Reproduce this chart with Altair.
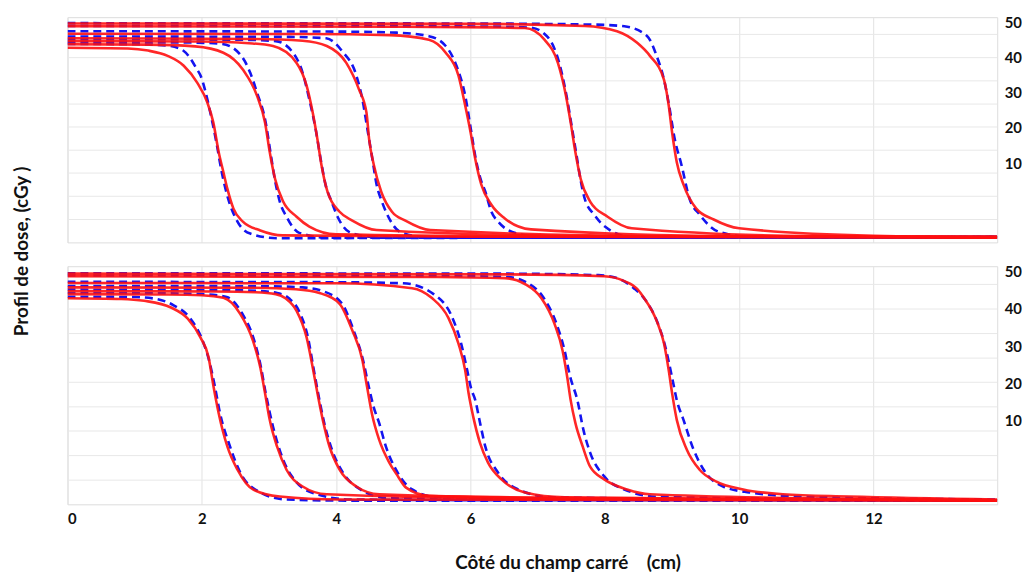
import altair as alt
import pandas as pd

# ---------------- data ----------------
# x : côté (cm) ; v : dose read against the printed 10..50 scale
FIELDS = ["2.25", "3", "3.75", "4.5", "6", "7.5", "9"]

# top panel, solid red
TR_X = {
    "2.25": [0, 0.9, 1.2, 1.49, 1.73, 1.93, 2.08, 2.17, 2.25, 2.32, 2.38, 2.47, 2.61, 2.87, 3.2, 6.0, 13.84],
    "3":    [0, 1.2, 1.9, 2.32, 2.61, 2.82, 2.94, 3.01, 3.09, 3.21, 3.41, 3.60, 4.00, 7.0, 13.84],
    "3.75": [0, 2.0, 2.7, 3.06, 3.41, 3.56, 3.65, 3.72, 3.78, 3.87, 4.05, 4.24, 4.6, 8.0, 13.84],
    "4.5":  [0, 2.8, 3.5, 3.86, 4.15, 4.34, 4.45, 4.49, 4.56, 4.67, 4.83, 5.03, 5.4, 9.0, 13.84],
    "6":    [0, 3.5, 4.8, 5.38, 5.63, 5.82, 5.92, 6.00, 6.07, 6.16, 6.31, 6.51, 6.9, 10.0, 13.84],
    "7.5":  [0, 5.0, 6.3, 6.81, 7.10, 7.30, 7.42, 7.49, 7.56, 7.64, 7.78, 8.04, 8.4, 11.0, 13.84],
    "9":    [0, 6.0, 7.7, 8.18, 8.48, 8.67, 8.88, 8.95, 9.00, 9.07, 9.17, 9.36, 9.62, 10.0, 12.0, 13.84],
}
TR_V = {
    "2.25": [42.8, 42.6, 42.0, 40.5, 37.7, 32.9, 27.3, 21.6, 13.2, 7.5, 2.7, -2.9, -6.6, -9.1, -10.5, -10.9, -11.1],
    "3":    [43.8, 43.7, 43.2, 41.4, 36.6, 29.2, 21.6, 13.2, 5.5, -0.9, -5.2, -8.0, -10.2, -10.8, -11.0],
    "3.75": [44.7, 44.6, 44.1, 43.3, 38.5, 32.0, 24.4, 16.8, 9.5, 1.9, -3.8, -6.3, -9.0, -10.8, -11.0],
    "4.5":  [45.5, 45.3, 44.8, 43.3, 38.5, 30.9, 24.4, 16.8, 9.5, 1.9, -3.8, -6.3, -9.0, -10.8, -11.0],
    "6":    [46.8, 46.7, 46.4, 45.1, 41.4, 34.9, 26.4, 18.8, 11.2, 3.9, -1.8, -5.7, -8.8, -10.8, -11.0],
    "7.5":  [48.9, 48.8, 48.6, 48.4, 45.1, 38.5, 29.2, 21.6, 13.2, 5.5, -0.9, -5.2, -8.5, -10.7, -11.0],
    "9":    [49.7, 49.6, 49.0, 47.5, 44.2, 40.5, 33.7, 26.4, 18.8, 10.3, 3.9, -2.9, -6.0, -8.5, -10.6, -11.0],
}

# top panel, dashed blue
TB_X = {
    "2.25": [0, 1.0, 1.5, 1.73, 1.93, 1.98, 2.05, 2.13, 2.22, 2.29, 2.39, 2.53, 2.72, 3.12, 6.0, 13.84],
    "3":    [0, 1.8, 2.3, 2.57, 2.72, 2.82, 2.95, 3.02, 3.09, 3.16, 3.26, 3.45, 3.9, 7.0, 13.84],
    "3.75": [0, 2.5, 3.1, 3.34, 3.50, 3.60, 3.70, 3.77, 3.84, 3.93, 4.02, 4.22, 4.7, 8.0, 13.84],
    "4.5":  [0, 3.3, 3.85, 4.09, 4.30, 4.39, 4.47, 4.54, 4.60, 4.68, 4.76, 4.96, 5.4, 9.0, 13.84],
    "6":    [0, 4.0, 4.9, 5.38, 5.63, 5.79, 5.92, 6.01, 6.08, 6.15, 6.22, 6.31, 6.41, 6.7, 7.2, 10.0, 13.84],
    "7.5":  [0, 5.5, 6.5, 6.9, 7.15, 7.32, 7.43, 7.51, 7.58, 7.64, 7.70, 7.84, 8.0, 8.4, 11.0, 13.84],
    "9":    [0, 6.0, 7.8, 8.29, 8.63, 8.77, 8.88, 8.95, 9.04, 9.14, 9.26, 9.41, 9.7, 10.2, 12.0, 13.84],
}
TB_V = {
    "2.25": [43.9, 43.8, 43.4, 41.9, 36.6, 34.9, 30.6, 24.0, 15.5, 8.0, 0.0, -6.6, -10.0, -11.3, -11.2, -11.1],
    "3":    [44.4, 44.3, 43.9, 40.9, 35.7, 30.1, 21.6, 13.2, 5.0, -0.9, -5.2, -9.8, -11.2, -11.1, -11.0],
    "3.75": [45.2, 45.1, 44.7, 41.8, 35.7, 28.1, 19.0, 11.0, 4.0, -0.9, -5.2, -9.8, -11.2, -11.1, -11.0],
    "4.5":  [46.0, 45.9, 45.5, 41.8, 34.9, 28.1, 19.0, 11.0, 4.0, -0.9, -4.6, -9.6, -11.2, -11.1, -11.0],
    "6":    [47.5, 47.4, 47.1, 46.1, 43.3, 37.7, 29.2, 19.0, 11.0, 5.5, 1.9, -3.8, -6.6, -10.0, -11.2, -11.1, -11.0],
    "7.5":  [49.0, 48.9, 48.8, 48.5, 45.8, 38.5, 29.0, 20.0, 12.0, 5.0, -0.1, -4.6, -8.0, -11.0, -11.1, -11.0],
    "9":    [49.8, 49.7, 49.4, 48.9, 46.1, 40.5, 33.7, 27.0, 16.8, 9.5, -0.1, -4.6, -9.5, -11.0, -11.0, -11.0],
}

# bottom panel, solid red
BR_X = {
    "2.25": [0, 0.8, 1.14, 1.54, 1.79, 1.98, 2.10, 2.17, 2.25, 2.38, 2.53, 2.76, 3.16, 4.05, 13.84],
    "3":    [0, 1.5, 2.0, 2.32, 2.57, 2.76, 2.87, 2.94, 3.01, 3.12, 3.26, 3.50, 3.86, 7.0, 13.84],
    "3.75": [0, 2.2, 2.8, 3.1, 3.25, 3.41, 3.56, 3.65, 3.72, 3.80, 3.90, 4.05, 4.30, 4.64, 8.0, 13.84],
    "4.5":  [0, 2.8, 3.4, 3.75, 4.05, 4.24, 4.39, 4.46, 4.53, 4.64, 4.79, 4.92, 5.04, 5.38, 9.0, 13.84],
    "6":    [0, 4.0, 5.13, 5.42, 5.67, 5.82, 5.92, 5.97, 6.04, 6.14, 6.26, 6.46, 6.81, 7.40, 10.5, 13.84],
    "7.5":  [0, 5.5, 6.51, 6.81, 7.05, 7.25, 7.37, 7.44, 7.49, 7.56, 7.67, 7.78, 7.99, 8.33, 8.67, 11.5, 13.84],
    "9":    [0, 6.5, 7.99, 8.29, 8.48, 8.58, 8.77, 8.88, 8.95, 9.00, 9.07, 9.22, 9.41, 9.66, 10.06, 10.65, 11.63, 13.84],
}
BR_V = {
    "2.25": [42.9, 42.7, 42.2, 40.4, 37.4, 32.3, 27.0, 19.5, 12.0, 3.0, -3.2, -8.5, -10.4, -11.2, -11.5],
    "3":    [44.0, 43.9, 43.7, 43.0, 38.7, 31.5, 24.3, 17.4, 10.2, 3.0, -3.2, -7.7, -9.8, -11.0, -11.4],
    "3.75": [44.8, 44.7, 44.5, 44.0, 42.8, 39.5, 32.3, 24.3, 17.4, 10.2, 3.0, -3.2, -7.7, -9.8, -11.0, -11.4],
    "4.5":  [45.8, 45.7, 45.3, 44.3, 41.4, 34.2, 26.2, 19.0, 12.0, 4.8, -1.3, -5.0, -8.0, -10.2, -11.0, -11.4],
    "6":    [47.0, 46.9, 45.6, 43.0, 37.6, 30.7, 23.5, 17.4, 11.0, 4.0, -1.3, -5.8, -9.3, -10.6, -11.1, -11.4],
    "7.5":  [48.8, 48.6, 48.3, 46.7, 43.0, 36.0, 28.8, 21.6, 15.5, 9.4, 3.0, -2.4, -5.8, -8.5, -9.8, -11.0, -11.4],
    "9":    [49.5, 49.3, 48.8, 47.5, 45.4, 43.0, 36.8, 30.7, 23.5, 17.4, 10.2, 2.2, -3.2, -6.4, -8.5, -9.8, -10.4, -11.2],
}

# bottom panel, dashed blue
BB_X = {
    "2.25": [0, 1.0, 1.29, 1.58, 1.82, 2.00, 2.11, 2.19, 2.27, 2.42, 2.57, 2.87, 3.25, 4.2, 13.84],
    "3":    [0, 1.5, 2.0, 2.37, 2.60, 2.78, 2.88, 2.95, 3.06, 3.21, 3.41, 3.71, 4.2, 7.0, 13.84],
    "3.75": [0, 2.2, 2.8, 3.12, 3.30, 3.45, 3.58, 3.66, 3.73, 3.82, 3.94, 4.10, 4.36, 4.75, 8.0, 13.84],
    "4.5":  [0, 3.0, 3.5, 3.8, 4.08, 4.26, 4.40, 4.48, 4.56, 4.64, 4.74, 4.89, 5.13, 5.5, 9.0, 13.84],
    "6":    [0, 4.0, 5.0, 5.45, 5.72, 5.86, 5.95, 6.01, 6.07, 6.14, 6.22, 6.41, 6.71, 7.2, 10.5, 13.84],
    "7.5":  [0, 5.5, 6.55, 6.85, 7.08, 7.28, 7.40, 7.48, 7.59, 7.68, 7.78, 7.99, 8.29, 8.8, 11.5, 13.84],
    "9":    [0, 6.5, 7.9, 8.18, 8.43, 8.6, 8.78, 8.89, 9.00, 9.07, 9.17, 9.32, 9.47, 9.76, 10.15, 11.0, 13.84],
}
BB_V = {
    "2.25": [43.3, 43.2, 42.8, 41.0, 37.6, 32.0, 26.0, 19.5, 12.0, 3.0, -3.9, -9.3, -11.2, -11.5, -11.5],
    "3":    [44.3, 44.2, 44.0, 43.2, 38.8, 31.5, 24.3, 17.4, 8.3, -0.5, -6.6, -9.8, -11.2, -11.4, -11.4],
    "3.75": [45.2, 45.1, 44.9, 44.3, 42.8, 39.3, 32.3, 24.3, 17.4, 9.5, 2.0, -4.0, -8.5, -10.8, -11.3, -11.4],
    "4.5":  [46.2, 46.1, 45.8, 44.8, 41.6, 34.2, 26.2, 19.5, 13.5, 9.3, 3.0, -3.2, -8.5, -10.6, -11.2, -11.4],
    "6":    [47.3, 47.2, 46.9, 44.0, 38.0, 30.7, 23.5, 18.5, 15.5, 9.5, 3.0, -4.0, -8.5, -10.6, -11.2, -11.4],
    "7.5":  [49.0, 48.9, 48.6, 47.0, 43.2, 36.0, 28.8, 22.0, 15.5, 7.5, 1.4, -5.0, -8.5, -10.5, -11.1, -11.4],
    "9":    [49.6, 49.5, 49.1, 48.3, 45.6, 42.5, 36.5, 30.5, 21.6, 15.5, 10.2, 2.2, -3.2, -7.7, -9.3, -10.5, -11.2],
}

Y_LABELS = [10, 20, 30, 40, 50]
X_LABELS = [0, 2, 4, 6, 8, 10, 12]
GRID_V = [46.6, 40.0, 33.4, 26.8, 20.3, 13.7, 7.2, 0.6, -6.0]
X_MAX = 13.84
Y_DOMAIN = [-12.5, 51.5]

Y_TITLE = "Profil de dose, (cGy )"
X_TITLE = "Côté du champ carré\u00a0\u00a0\u00a0\u00a0(cm)"

FONT = "Lato"
RED = "#ff1010"
BLUE = "#1414f0"


def frame(xd, vd):
    rows = []
    for f in FIELDS:
        for x, v in zip(xd[f], vd[f]):
            rows.append({"field": f, "x": x, "v": v})
    return pd.DataFrame(rows)


def panel(red_x, red_v, blue_x, blue_v, height, bottom, extra=None):
    xaxis = alt.Axis(
        values=X_LABELS, grid=True, gridColor="#e2e2e2", gridWidth=1,
        ticks=False, domain=False, labels=bottom,
        labelFont=FONT, labelFontWeight="bold", labelFontSize=15,
        labelColor="#111111", labelPadding=7,
        title=X_TITLE if bottom else None,
        titleFont=FONT, titleFontWeight="bold", titleFontSize=19,
        titleColor="#111111", titleX=504, titleY=59, titleBaseline="middle",
    )
    yaxis = alt.Axis(
        orient="right", values=Y_LABELS, grid=False, ticks=False,
        domain=False, labelFont=FONT, labelFontWeight="bold",
        labelFontSize=15, labelColor="#111111", labelPadding=7, title=None,
    )
    yscale = alt.Scale(domain=Y_DOMAIN, nice=False, zero=False)
    xs = alt.X("x:Q", scale=alt.Scale(domain=[0, X_MAX], nice=False, zero=False), axis=xaxis)
    ys = alt.Y("v:Q", scale=yscale, axis=yaxis)

    grid = alt.Chart(pd.DataFrame({"v": GRID_V})).mark_rule(
        color="#e8e8e8", strokeWidth=1
    ).encode(y=ys)

    blue = alt.Chart(frame(blue_x, blue_v)).mark_line(
        color=BLUE, strokeWidth=2.6, strokeDash=[8, 5],
        interpolate="monotone", clip=True
    ).encode(x=xs, y=ys, detail="field:N")

    red = alt.Chart(frame(red_x, red_v)).mark_line(
        color=RED, strokeWidth=2.6, interpolate="monotone", clip=True,
        opacity=0.9
    ).encode(x=xs, y=ys, detail="field:N")

    layers = [grid, blue, red]
    if extra is not None:
        layers.append(extra)
    return alt.layer(*layers).properties(width=937, height=height)


ytitle = alt.Chart(pd.DataFrame({"t": [Y_TITLE]})).mark_text(
    angle=270, font=FONT, fontWeight="bold", fontSize=19, color="#111111",
    baseline="middle", align="center"
).encode(x=alt.value(-46), y=alt.value(236), text="t:N")

top = panel(TR_X, TR_V, TB_X, TB_V, 227, False, extra=ytitle)
bottom = panel(BR_X, BR_V, BB_X, BB_V, 240, True)

chart = alt.vconcat(top, bottom, spacing=24, bounds="flush").properties(
    padding={"left": 4, "top": 4, "right": 0, "bottom": 0}
).configure_view(
    stroke="#c4c4c4", strokeWidth=1.5
).configure(background="white")

chart.save("out.html", embed_options={"renderer": "svg", "actions": False})
